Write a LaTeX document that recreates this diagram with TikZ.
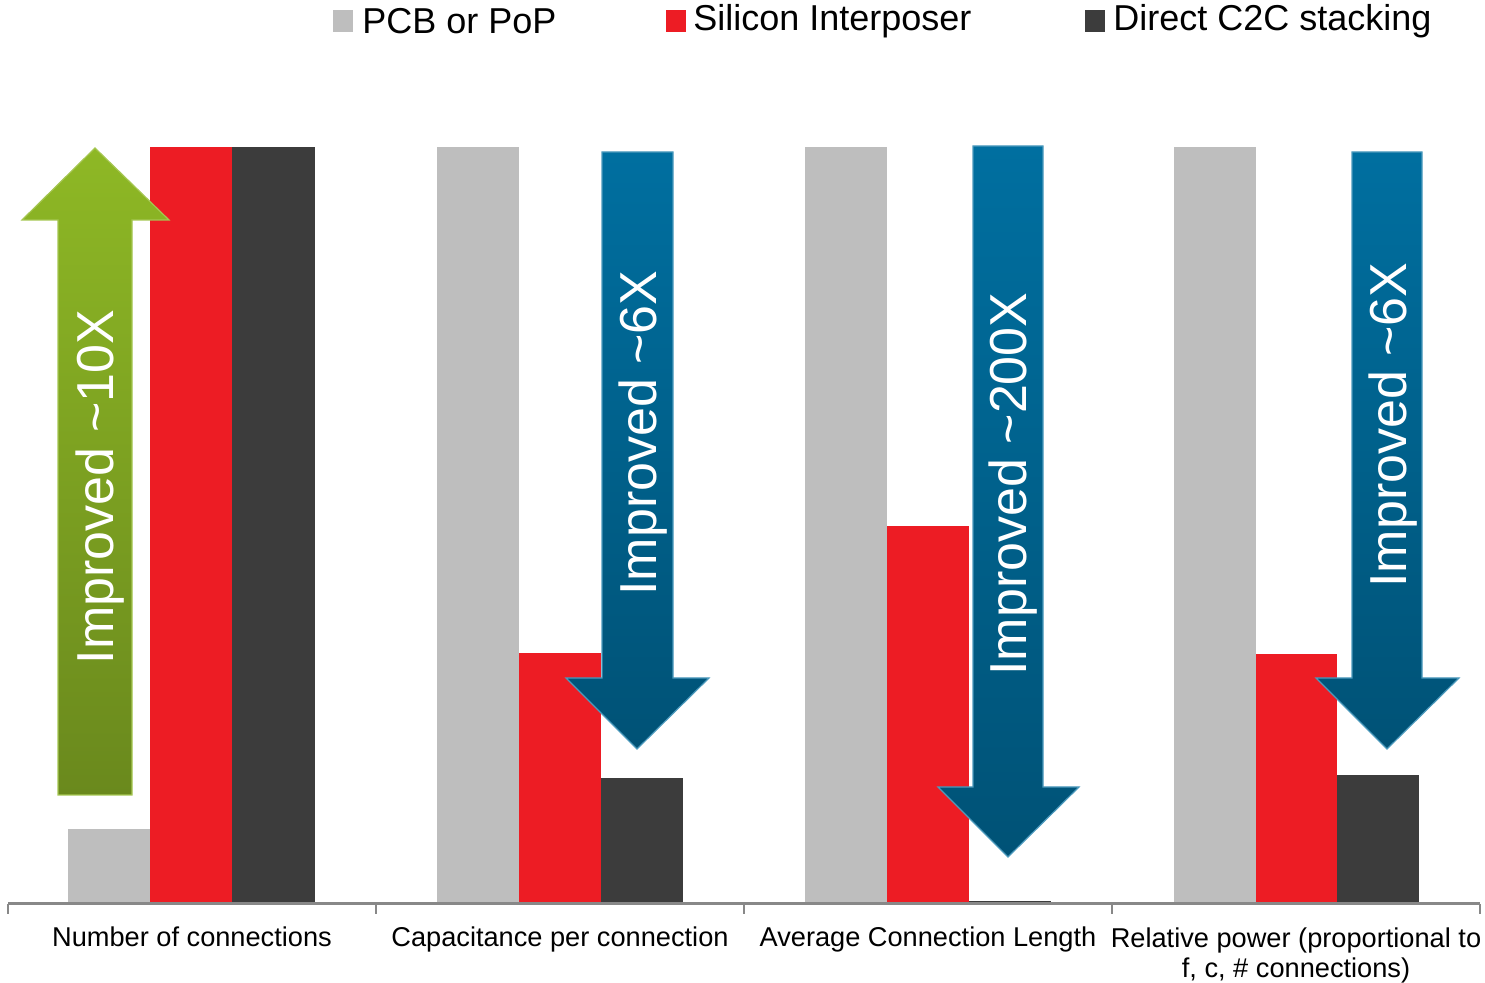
\documentclass[tikz,border=0pt]{standalone}
\usepackage{fontspec}
\setmainfont{Liberation Sans}
\usetikzlibrary{positioning}
\definecolor{pcbgray}{HTML}{BEBEBE}
\definecolor{sired}{HTML}{ED1C24}
\definecolor{ctcdark}{HTML}{3C3C3C}
\definecolor{axisgray}{HTML}{888888}
\definecolor{greentop}{HTML}{8EB825}
\definecolor{greenbot}{HTML}{6A891D}
\definecolor{bluetop}{HTML}{006FA0}
\definecolor{bluebot}{HTML}{005276}
\tikzset{
  upshade/.style={top color=greentop, bottom color=greenbot, draw=greentop!80!white, line width=0.6pt},
  downshade/.style={top color=bluetop, bottom color=bluebot, draw=bluetop!70!white, line width=0.6pt},
  arrowtext/.style={text=white, rotate=90, font=\fontsize{26}{30}\selectfont},
  legendtext/.style={anchor=west, inner sep=0pt, font=\fontsize{18}{20}\selectfont},
  catlabel/.style={align=center, inner sep=0pt, font=\fontsize{13.6}{15}\selectfont},
  oneline/.style={catlabel, text height=10pt, text depth=3pt}
}

\begin{document}
\begin{tikzpicture}[x=0.5pt,y=-0.5pt]
\useasboundingbox (0,0) rectangle (1485,983);
% legend
\fill[pcbgray] (333,10) rectangle (353,32);
\node[legendtext] (leg1) at (362,21) {PCB or PoP};
\fill[sired] (666,10) rectangle (686,32);
\node[legendtext] (leg2) at (693,21) {Silicon Interposer};
\fill[ctcdark] (1085,10) rectangle (1105,32);
\node[legendtext] (leg3) at (1113,21) {Direct C2C stacking};
% number of connections
\fill[pcbgray] (68,829) rectangle (150,904);
\fill[sired] (150,147) rectangle (232,904);
\fill[ctcdark] (232,147) rectangle (315,904);
% capacitance per connection
\fill[pcbgray] (437,147) rectangle (519,904);
\fill[sired] (519,653) rectangle (601,904);
\fill[ctcdark] (601,778) rectangle (683,904);
% average connection length
\fill[pcbgray] (805,147) rectangle (887,904);
\fill[sired] (887,526) rectangle (969,904);
\fill[ctcdark] (969,901) rectangle (1051,904);
% relative power
\fill[pcbgray] (1174,147) rectangle (1256,904);
\fill[sired] (1256,654) rectangle (1337,904);
\fill[ctcdark] (1337,775) rectangle (1419,904);
% axis
\coordinate (ax0) at (8,904);
\coordinate (ax1) at (1480,904);
\draw[axisgray, line width=1.5pt] (ax0) -- (ax1);
\draw[axisgray, line width=1pt] (8,904) -- (8,914);
\draw[axisgray, line width=1pt] (376,904) -- (376,914);
\draw[axisgray, line width=1pt] (744,904) -- (744,914);
\draw[axisgray, line width=1pt] (1112,904) -- (1112,914);
\draw[axisgray, line width=1pt] (1480,904) -- (1480,914);
% arrows
\shade[upshade] (58,795) -- (58,220) -- (22,220) -- (95,148) -- (169,220) -- (132,220) -- (132,795) -- cycle;
\node[arrowtext] (imp1) at (100,487) {Improved \textasciitilde10X};
\shade[downshade] (602,152) -- (673,152) -- (673,678) -- (709,678) -- (637,749) -- (566,678) -- (602,678) -- cycle;
\node[arrowtext] (imp2) at (643,433) {Improved \textasciitilde6X};
\shade[downshade] (973,146) -- (1043,146) -- (1043,787) -- (1079,787) -- (1008,857) -- (938,787) -- (973,787) -- cycle;
\node[arrowtext] (imp3) at (1013,484) {Improved \textasciitilde200X};
\shade[downshade] (1352,152) -- (1422,152) -- (1422,678) -- (1459,678) -- (1387,749) -- (1316,678) -- (1352,678) -- cycle;
\node[arrowtext] (imp4) at (1393,425) {Improved \textasciitilde6X};
% category labels
\node[oneline] (cat1) at (192,940) {Number of connections};
\node[oneline] (cat2) at (560,940) {Capacitance per connection};
\node[oneline] (cat3) at (928,940) {Average Connection Length};
\node[catlabel] (cat4) at (1296,955) {Relative power (proportional to\\f, c, \# connections)};
\end{tikzpicture}
\end{document}
